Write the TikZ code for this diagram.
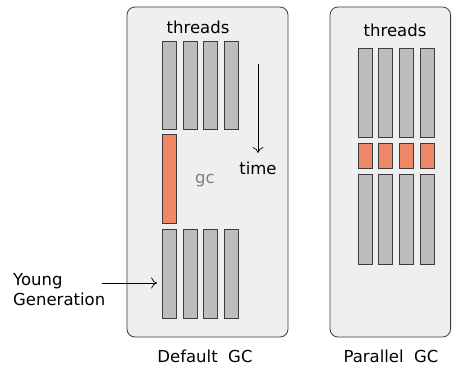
\documentclass[tikz,border=0pt]{standalone}
\usepackage{fontspec}
\setmainfont{DejaVu Sans}
\usetikzlibrary{arrows.meta,positioning}
\definecolor{panelbg}{RGB}{239,239,239}
\definecolor{panelline}{RGB}{60,60,60}
\definecolor{barfill}{RGB}{189,189,189}
\definecolor{gcfill}{RGB}{240,136,104}
\tikzset{
      mypanel/.style={
        draw=panelline,
        fill=panelbg,
        line width=0.8pt,
        rounded corners=8pt
      },
      mybar/.style 2 args={
        draw=panelline,
        fill=#1,
        line width=0.7pt,
        minimum width=14pt,
        minimum height=#2,
        inner sep=0pt
      },
      mylabel/.style={
        font=\fontsize{16.5}{20}\selectfont,
        inner sep=1pt
      },
      myarrow/.style={
        -{To[length=6pt,width=11pt]},
        line width=0.7pt
      }
    }
\begin{document}
\begin{tikzpicture}[x=1pt,y=-1pt]
          \useasboundingbox (0,0) rectangle (452,365);

          % default gc
          \draw[mypanel] (127,7) rectangle (288,337);
          \node[mylabel] (threads1) at (198,27) {threads};
          \foreach \i/\x in {1/169.5,2/190,3/210.5,4/231}{
            \node[mybar={barfill}{88pt}] (top\i) at (\x,85) {};
            \node[mybar={barfill}{89pt}] (young\i) at (\x,273.5) {};
          }
          \node[mybar={gcfill}{89pt}] (gc1) at (169.5,178.5) {};
          \node[mylabel,text=gray] (gclabel) at (205,181) {gc};
          \coordinate (timestart) at (258,64);
          \coordinate (timeend) at (258,153);
          \draw[myarrow] (timestart) -- (timeend);
          \node[mylabel,below=8pt of timeend] (time) {time};
          \node[mylabel,align=left,anchor=west] (young) at (12,290)
            {Young\\Generation};
          \coordinate (youngstart) at (102,283);
          \draw[myarrow,shorten >=5pt] (youngstart) -- (young1.west |- youngstart);
          \node[mylabel] (title1) at (205,356) {Default\ \ GC};

          % parallel gc
          \draw[mypanel] (330,7) rectangle (450.6,337);
          \node[mylabel] (threads2) at (395,30) {threads};
          \foreach \i/\x in {1/365,2/385.5,3/406,4/427}{
            \node[mybar={barfill}{89pt}] (ptop\i) at (\x,92.5) {};
            \node[mybar={gcfill}{25pt}] (pgc\i) at (\x,155.5) {};
            \node[mybar={barfill}{90pt}] (pbot\i) at (\x,219) {};
          }
          \node[mylabel] (title2) at (391,356) {Parallel\ \ GC};
        \end{tikzpicture}
\end{document}
